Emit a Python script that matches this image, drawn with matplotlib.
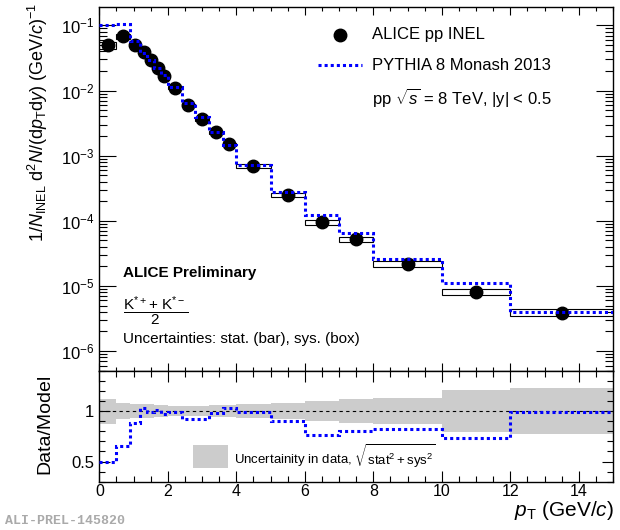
import numpy as np
import matplotlib
matplotlib.use('Agg')
import matplotlib.pyplot as plt
from matplotlib.patches import Rectangle
from matplotlib.ticker import LogLocator, MultipleLocator, FixedLocator, NullFormatter, FixedFormatter

plt.rcParams['font.family'] = ['Liberation Sans', 'DejaVu Sans']
plt.rcParams['mathtext.fontset'] = 'custom'
plt.rcParams['mathtext.rm'] = 'Liberation Sans'
plt.rcParams['mathtext.it'] = 'Liberation Sans:italic'
plt.rcParams['mathtext.bf'] = 'Liberation Sans:bold'

# pT bins (GeV/c)
pt_edges = [0, 0.5, 0.9, 1.2, 1.4, 1.6, 1.8, 2.0, 2.4, 2.8, 3.2, 3.6, 4.0, 5, 6, 7, 8, 10, 12, 15]

# ALICE pp INEL, 1/N dN/dpTdy
data_yield = [0.0494, 0.068, 0.0506, 0.039, 0.0291, 0.0225, 0.0166, 0.0111, 0.00596,
              0.00363, 0.00228, 0.00149, 7.0e-4, 2.5e-4, 9.5e-5, 5.2e-5, 2.16e-5, 8.1e-6, 3.9e-6]
stat_rel = [0.03, 0.03, 0.025, 0.025, 0.025, 0.025, 0.025, 0.02, 0.02, 0.02, 0.025,
            0.025, 0.025, 0.04, 0.055, 0.08, 0.085, 0.175, 0.195]
sys_rel = [0.12, 0.075, 0.065, 0.06, 0.06, 0.055, 0.055, 0.05, 0.05, 0.05, 0.05,
           0.055, 0.06, 0.07, 0.08, 0.09, 0.1, 0.11, 0.12]

# PYTHIA 8 Monash 2013
pythia_yield = [0.1, 0.104, 0.0575, 0.0379, 0.0294, 0.0223, 0.0171, 0.0112, 0.00648,
                0.00395, 0.00233, 0.00145, 7.07e-4, 2.79e-4, 1.25e-4, 6.5e-5, 2.63e-5, 1.11e-5, 3.94e-6]

# Data/Model
ratio = [0.5, 0.655, 0.88, 1.03, 0.99, 1.01, 0.97, 0.99, 0.92, 0.92, 0.98,
         1.03, 0.99, 0.9, 0.76, 0.8, 0.82, 0.73, 0.99]

edges = np.array(pt_edges)
centers = 0.5 * (edges[:-1] + edges[1:])
widths = np.diff(edges)
y = np.array(data_yield)
stat = np.array(stat_rel) * y
sys = np.array(sys_rel) * y
unc = np.sqrt(np.array(stat_rel) ** 2 + np.array(sys_rel) ** 2)

blue = '#0000ff'
dots = (0, (1, 1))

fig = plt.figure(figsize=(6.2, 5.3), dpi=100)
ax = fig.add_axes([0.1602, 0.3006, 0.8285, 0.6857])
axr = fig.add_axes([0.1602, 0.0911, 0.8285, 0.2095])

# top panel
ax.bar(centers, 2 * sys, bottom=y - sys, width=widths, fill=False,
       edgecolor='black', lw=0.8, zorder=2)
ax.errorbar(centers, y, yerr=stat, fmt='o', color='black', ms=9,
            elinewidth=1, capsize=0, zorder=3)
ax.stairs(pythia_yield, edges, baseline=None, color=blue, lw=2.2, ls=dots, zorder=4)

ax.set_yscale('log')
ax.set_xlim(0, 15)
ax.set_ylim(5e-7, 0.19)
ax.xaxis.set_major_locator(MultipleLocator(2))
ax.xaxis.set_minor_locator(MultipleLocator(0.5))
ax.yaxis.set_major_locator(LogLocator(base=10, numticks=20))
ax.yaxis.set_minor_locator(LogLocator(base=10, subs=np.arange(2, 10), numticks=20))
ax.yaxis.set_minor_formatter(NullFormatter())
ax.tick_params(axis='both', which='both', direction='in', top=True, right=True,
               labelbottom=False, labelsize=12)
ax.tick_params(axis='y', which='major', length=12, width=0.8)
ax.tick_params(axis='y', which='minor', length=6, width=0.8)
ax.tick_params(axis='x', which='major', length=6, width=0.8)
ax.tick_params(axis='x', which='minor', length=3, width=0.8)

# legend
ax.plot([0.4686], [0.924], 'o', color='black', ms=9, transform=ax.transAxes)
ax.text(0.530, 0.924, 'ALICE pp INEL', transform=ax.transAxes, fontsize=12, va='center')
ax.plot([0.4256, 0.5114], [0.841, 0.841], color=blue, lw=2.2, ls=dots, transform=ax.transAxes)
ax.text(0.530, 0.841, 'PYTHIA 8 Monash 2013', transform=ax.transAxes, fontsize=12, va='center')
ax.text(0.530, 0.753, r'pp $\sqrt{s}$ = 8 TeV, |y| < 0.5', transform=ax.transAxes,
        fontsize=12, va='center')

ax.text(0.046, 0.2697, 'ALICE Preliminary', transform=ax.transAxes, fontsize=11,
        fontweight='bold', va='center')
ax.text(0.046, 0.164, r'$\dfrac{\mathrm{K}^{*+}\!+\,\mathrm{K}^{*-}}{2}$', transform=ax.transAxes,
        fontsize=11, va='center')
ax.text(0.046, 0.0872, 'Uncertainties: stat. (bar), sys. (box)', transform=ax.transAxes,
        fontsize=11, va='center')

# ratio panel
axr.stairs(1 + unc, edges, baseline=1 - unc, fill=True, color='#cccccc', lw=0, zorder=1)
axr.axhline(1, color='black', ls=(0, (3, 3)), lw=0.8, zorder=2)
axr.stairs(ratio, edges, baseline=None, color=blue, lw=2.2, ls=dots, zorder=3)

axr.set_xlim(0, 15)
axr.set_ylim(0.3, 1.4)
axr.xaxis.set_major_locator(MultipleLocator(2))
axr.xaxis.set_minor_locator(MultipleLocator(0.5))
axr.yaxis.set_major_locator(FixedLocator([0.5, 1.0]))
axr.yaxis.set_major_formatter(FixedFormatter(['0.5', '1']))
axr.yaxis.set_minor_locator(MultipleLocator(0.1))
axr.tick_params(axis='both', which='both', direction='in', top=True, right=True, labelsize=12)
axr.tick_params(axis='x', labelsize=11.5, pad=2)
axr.tick_params(axis='both', which='major', length=8, width=0.8)
axr.tick_params(axis='both', which='minor', length=4, width=0.8)

axr.add_patch(Rectangle((0.1824, 0.124), 0.0681, 0.207, transform=axr.transAxes,
                        facecolor='#cccccc', edgecolor='none'))
axr.text(0.262, 0.2275, r'Uncertainity in data, $\sqrt{\mathrm{stat}^2 + \mathrm{sys}^2}$',
         transform=axr.transAxes, fontsize=9.5, va='center')

for a in (ax, axr):
    for s in a.spines.values():
        s.set_linewidth(1.0)

# axis titles
fig.text(0.062, 0.77,
         r'$1/\mathit{N}_{\mathrm{INEL}}\ \mathrm{d}^{2}\mathit{N}/(\mathrm{d}\mathit{p}_{\mathrm{T}}\mathrm{d}y)\ (\mathrm{GeV}/\mathit{c})^{-1}$',
         rotation=90, fontsize=13, ha='center', va='center')
fig.text(0.073, 0.2, 'Data/Model', rotation=90, fontsize=14, ha='center', va='center')
fig.text(0.99, 0.026, r'$\mathit{p}_{\mathrm{T}}$ (GeV/$\mathit{c}$)', fontsize=15,
         ha='right', va='baseline')
fig.text(0.008, 0.017, 'ALI-PREL-145820', fontsize=9.5, family='Liberation Mono',
         fontweight='bold', color='#aaaaaa', ha='left', va='center')

fig.savefig('out.png', dpi=100)
